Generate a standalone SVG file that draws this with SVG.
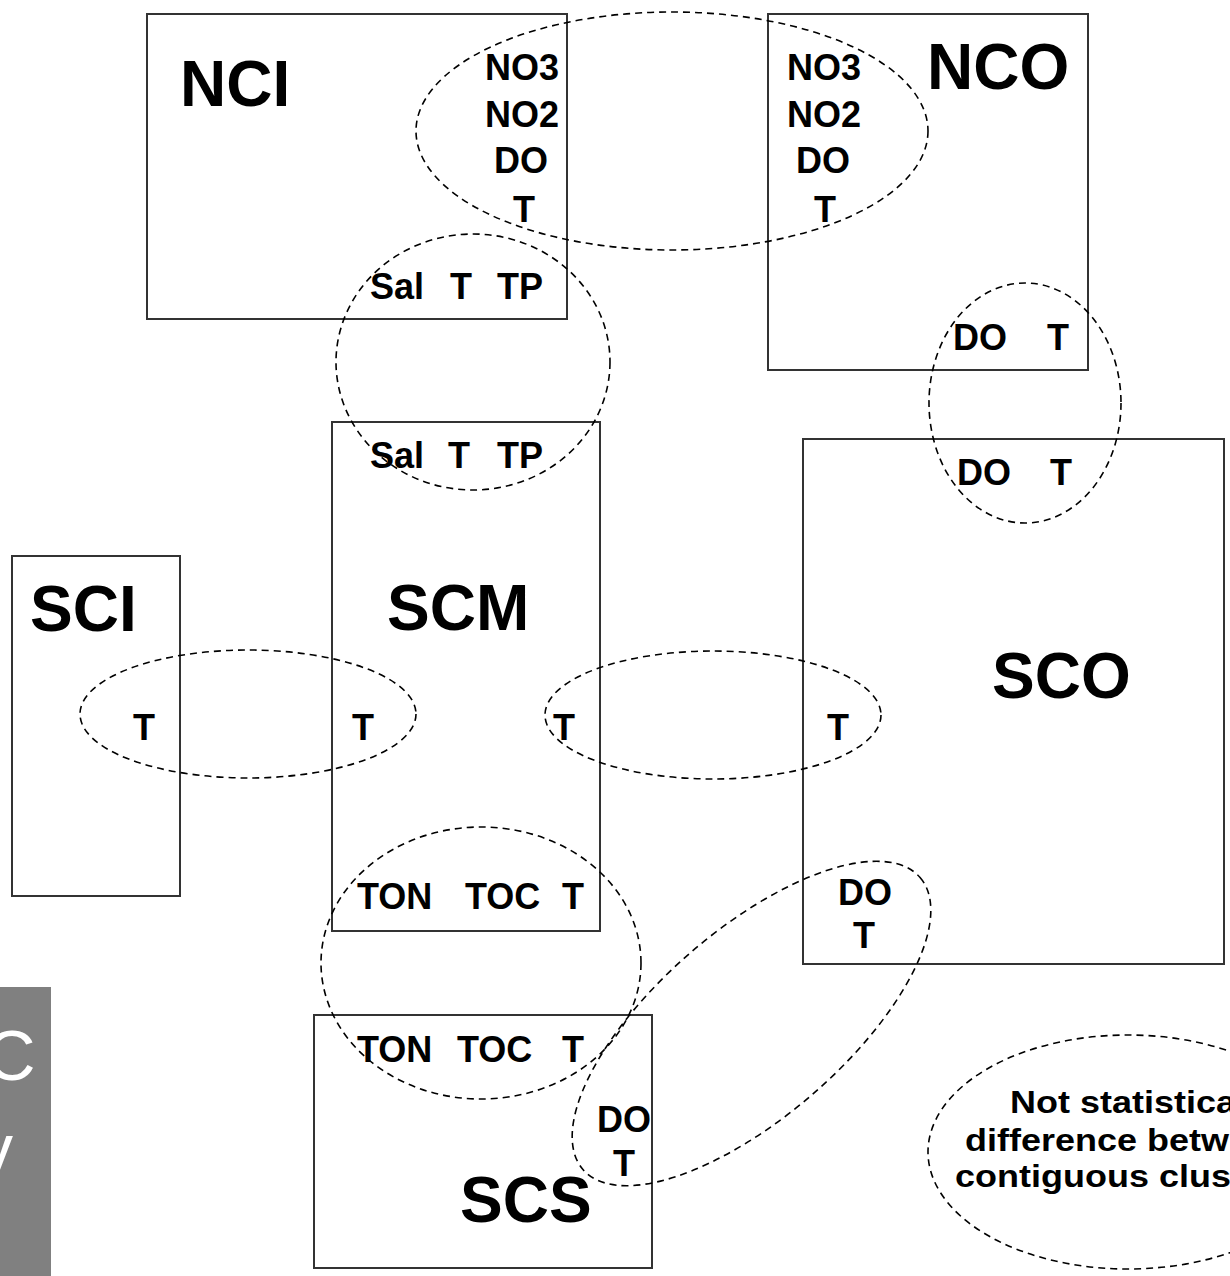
<svg xmlns="http://www.w3.org/2000/svg" width="1230" height="1276" viewBox="0 0 1230 1276">
<style>
.box{fill:none;stroke:#333;stroke-width:2}
.cl{fill:none;stroke:#000;stroke-width:1.6;stroke-dasharray:7 5}
.big{font-family:"Liberation Sans",Arial,sans-serif;font-weight:bold;font-size:64px;fill:#000}
.lb{font-family:"Liberation Sans",Arial,sans-serif;font-weight:bold;font-size:36px;fill:#000}
.m{text-anchor:middle}
.note{font-family:"Liberation Sans",Arial,sans-serif;font-weight:bold;font-size:32px;fill:#000}
.side{font-family:"Liberation Sans",Arial,sans-serif;font-size:70px;fill:#fff}
</style>
<rect width="1230" height="1276" fill="#fff"/>
<g id="side-panel">
<rect x="0" y="987" width="51" height="289" fill="#808080"/>
<text class="side" x="-15" y="1080">C</text>
<text class="side" x="-22" y="1173">y</text>
</g>
<g id="NCI">
<rect class="box" x="147" y="14" width="420" height="305"/>
<text class="big" x="180" y="106">NCI</text>
<text class="lb m" x="522" y="80">NO3</text>
<text class="lb m" x="522" y="127">NO2</text>
<text class="lb m" x="521" y="173">DO</text>
<text class="lb m" x="524" y="222">T</text>
<text class="lb" x="370" y="299">Sal</text>
<text class="lb" x="450" y="299">T</text>
<text class="lb" x="497" y="299">TP</text>
</g>
<g id="NCO">
<rect class="box" x="768" y="14" width="320" height="356"/>
<text class="big" x="927" y="89">NCO</text>
<text class="lb m" x="824" y="80">NO3</text>
<text class="lb m" x="824" y="127">NO2</text>
<text class="lb m" x="823" y="173">DO</text>
<text class="lb m" x="825" y="222">T</text>
<text class="lb" x="953" y="350">DO</text>
<text class="lb" x="1047" y="350">T</text>
</g>
<g id="SCM">
<rect class="box" x="332" y="422" width="268" height="509"/>
<text class="big" x="387" y="630">SCM</text>
<text class="lb" x="370" y="468">Sal</text>
<text class="lb" x="448" y="468">T</text>
<text class="lb" x="497" y="468">TP</text>
<text class="lb" x="352" y="740">T</text>
<text class="lb" x="553" y="740">T</text>
<text class="lb" x="357" y="909">TON</text>
<text class="lb" x="465" y="909">TOC</text>
<text class="lb" x="562" y="909">T</text>
</g>
<g id="SCI">
<rect class="box" x="12" y="556" width="168" height="340"/>
<text class="big" x="30" y="631">SCI</text>
<text class="lb" x="133" y="740">T</text>
</g>
<g id="SCO">
<rect class="box" x="803" y="439" width="421" height="525"/>
<text class="big" x="992" y="698">SCO</text>
<text class="lb" x="957" y="485">DO</text>
<text class="lb" x="1050" y="485">T</text>
<text class="lb" x="827" y="740">T</text>
<text class="lb m" x="865" y="905">DO</text>
<text class="lb m" x="864" y="948">T</text>
</g>
<g id="SCS">
<rect class="box" x="314" y="1015" width="338" height="253"/>
<text class="big" x="460" y="1222">SCS</text>
<text class="lb" x="357" y="1062">TON</text>
<text class="lb" x="457" y="1062">TOC</text>
<text class="lb" x="562" y="1062">T</text>
<text class="lb m" x="624" y="1132">DO</text>
<text class="lb m" x="624" y="1176">T</text>
</g>
<g id="connectors">
<ellipse class="cl" cx="672" cy="131" rx="256" ry="119"/>
<ellipse class="cl" cx="473" cy="362" rx="137" ry="128"/>
<ellipse class="cl" cx="1025" cy="403" rx="96" ry="120"/>
<ellipse class="cl" cx="248" cy="714" rx="168" ry="64"/>
<ellipse class="cl" cx="713" cy="715" rx="168" ry="64"/>
<ellipse class="cl" cx="481" cy="963" rx="160" ry="136"/>
<ellipse class="cl" cx="0" cy="0" rx="223" ry="93.5" transform="translate(751.5 1023.5) rotate(-40.9)"/>
</g>
<g id="note">
<ellipse class="cl" cx="1128" cy="1152" rx="200" ry="117"/>
<text class="note" transform="translate(1010 1113) scale(1.125 1)">Not statistica</text>
<text class="note" transform="translate(965 1151) scale(1.125 1)">difference betw</text>
<text class="note" transform="translate(955 1187) scale(1.125 1)">contiguous clus</text>
</g>
</svg>
